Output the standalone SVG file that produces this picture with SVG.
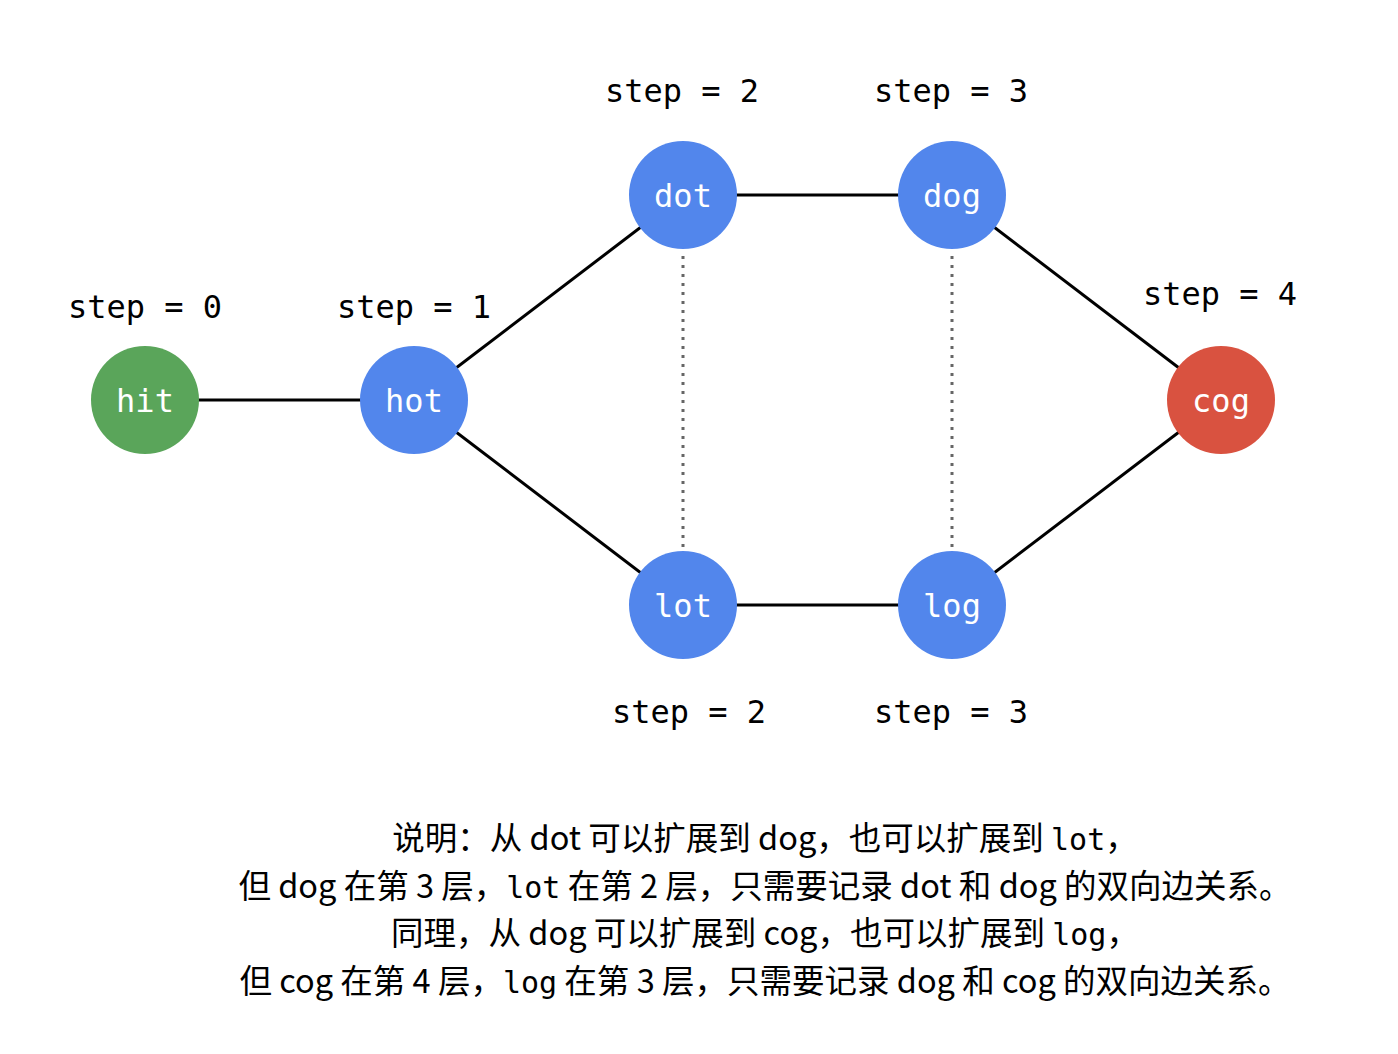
<svg xmlns="http://www.w3.org/2000/svg" width="1398" height="1054" viewBox="0 0 1398 1054">
<style>
.edge{stroke:#000;stroke-width:3;fill:none}
.dot{stroke:#666;stroke-width:3;stroke-dasharray:3 6;fill:none}
.lbl{font-family:"DejaVu Sans Mono",monospace;font-size:32px;fill:#000}
.nt{font-family:"DejaVu Sans Mono",monospace;font-size:32px;fill:#fff;text-anchor:middle}
.blue{fill:#5286EC}
.green{fill:#5AA55A}
.red{fill:#D95240}
.note{font-family:"Noto Sans CJK SC","Noto Sans",sans-serif;font-size:32.5px;fill:#000;text-anchor:middle}
.m{font-family:"DejaVu Sans Mono",monospace;font-size:30px}
</style>
<rect width="1398" height="1054" fill="#fff"/>
<g id="connectors">
<line class="edge" x1="145" y1="400" x2="414" y2="400"/>
<line class="edge" x1="414" y1="400" x2="683" y2="195"/>
<line class="edge" x1="414" y1="400" x2="683" y2="605"/>
<line class="edge" x1="683" y1="195" x2="952" y2="195"/>
<line class="edge" x1="683" y1="605" x2="952" y2="605"/>
<line class="edge" x1="952" y1="195" x2="1221" y2="400"/>
<line class="edge" x1="952" y1="605" x2="1221" y2="400"/>
<line class="dot" x1="683" y1="256" x2="683" y2="550"/>
<line class="dot" x1="952" y1="256" x2="952" y2="550"/>
</g>
<g id="node-hit"><circle class="green" cx="145" cy="400" r="54"/><text class="nt" x="145" y="412">hit</text></g>
<g id="node-hot"><circle class="blue" cx="414" cy="400" r="54"/><text class="nt" x="414" y="412">hot</text></g>
<g id="node-dot"><circle class="blue" cx="683" cy="195" r="54"/><text class="nt" x="683" y="207">dot</text></g>
<g id="node-dog"><circle class="blue" cx="952" cy="195" r="54"/><text class="nt" x="952" y="207">dog</text></g>
<g id="node-lot"><circle class="blue" cx="683" cy="605" r="54"/><text class="nt" x="683" y="617">lot</text></g>
<g id="node-log"><circle class="blue" cx="952" cy="605" r="54"/><text class="nt" x="952" y="617">log</text></g>
<g id="node-cog"><circle class="red" cx="1221" cy="400" r="54"/><text class="nt" x="1221" y="412">cog</text></g>
<g id="labels">
<text class="lbl" x="68" y="318">step = 0</text>
<text class="lbl" x="337" y="318">step = 1</text>
<text class="lbl" x="605" y="102">step = 2</text>
<text class="lbl" x="874" y="102">step = 3</text>
<text class="lbl" x="1143" y="305">step = 4</text>
<text class="lbl" x="612" y="723">step = 2</text>
<text class="lbl" x="874" y="723">step = 3</text>
</g>
<g id="note">
<text class="note" x="765" y="850">说明：从 dot 可以扩展到 dog，也可以扩展到 <tspan class="m">lot</tspan>，</text>
<text class="note" x="765" y="898">但 dog 在第 3 层，<tspan class="m">lot</tspan> 在第 2 层，只需要记录 dot 和 dog 的双向边关系。</text>
<text class="note" x="765" y="945">同理，从 dog 可以扩展到 cog，也可以扩展到 <tspan class="m">log</tspan>，</text>
<text class="note" x="765" y="993">但 cog 在第 4 层，<tspan class="m">log</tspan> 在第 3 层，只需要记录 dog 和 cog 的双向边关系。</text>
</g>
</svg>
